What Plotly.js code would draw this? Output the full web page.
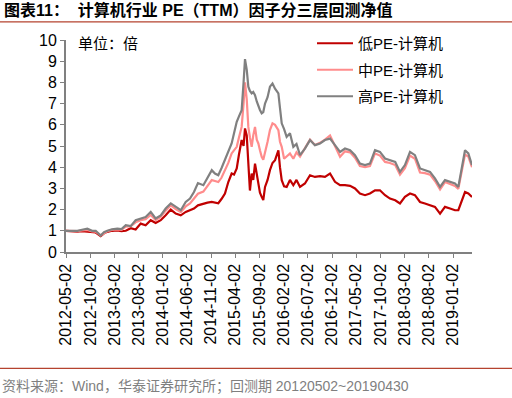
<!DOCTYPE html>
<html><head><meta charset="utf-8">
<script src="https://cdn.plot.ly/plotly-3.0.1.min.js"></script>
<style>html,body{margin:0;padding:0;background:#fff;}#chart{width:512px;height:398px;}</style>
</head><body><div id="chart"></div>
<script>
var dates = ["2012-05-02","2012-06-09","2012-07-12","2012-08-11","2012-09-13","2012-10-13","2012-11-05","2012-12-06","2012-12-27","2013-01-17",
"2013-02-15","2013-03-21","2013-04-16","2013-05-13","2013-06-13","2013-07-14","2013-08-15","2013-09-15","2013-10-17","2013-11-17",
"2013-12-19","2014-01-19","2014-02-20","2014-03-23","2014-04-24","2014-05-25","2014-06-21","2014-07-16","2014-08-10","2014-09-13",
"2014-10-09","2014-11-05","2014-11-25","2014-12-16","2015-01-05","2015-01-27","2015-02-17","2015-03-10","2015-03-25","2015-04-11",
"2015-04-25","2015-05-12","2015-05-24","2015-06-02","2015-06-13","2015-06-23","2015-07-03","2015-07-14","2015-07-24","2015-08-04",
"2015-08-15","2015-08-25","2015-09-04","2015-09-15","2015-09-25","2015-10-06","2015-10-22","2015-11-06","2015-11-22","2015-12-08",
"2015-12-29","2016-01-08","2016-01-19","2016-02-03","2016-02-19","2016-03-11","2016-04-01","2016-04-21","2016-05-13","2016-06-13",
"2016-07-15","2016-08-15","2016-09-16","2016-10-17","2016-11-18","2016-12-19","2017-01-20","2017-02-20","2017-03-24","2017-04-24",
"2017-05-25","2017-06-26","2017-07-27","2017-08-28","2017-09-28","2017-10-30","2017-11-30","2018-01-02","2018-02-01","2018-03-04",
"2018-04-05","2018-05-06","2018-06-07","2018-07-08","2018-08-09","2018-09-09","2018-10-11","2018-11-11","2018-12-13","2019-01-13",
"2019-02-03","2019-02-24","2019-03-17","2019-04-07","2019-04-30"];
var lowPE = [1.00,0.97,0.96,0.98,0.95,0.93,0.92,0.75,0.88,0.95,
1.00,1.02,0.98,1.00,1.12,1.06,1.34,1.26,1.50,1.37,
1.50,1.73,2.00,1.81,1.73,1.89,1.97,2.05,2.20,2.29,
2.33,2.36,2.34,2.30,2.50,2.76,3.30,3.70,3.65,3.94,
4.60,5.28,5.00,5.83,5.50,4.33,2.90,3.70,3.40,4.17,
3.60,3.23,2.80,2.60,2.45,3.07,3.40,3.86,4.20,4.33,
4.80,4.00,3.39,3.10,3.07,3.40,3.15,3.40,3.07,3.23,
3.62,3.54,3.58,3.54,3.70,3.31,3.15,3.15,3.12,3.00,
2.76,2.68,2.76,2.91,2.91,2.68,2.52,2.44,2.29,2.60,
2.76,2.68,2.36,2.29,2.21,2.13,1.81,2.13,2.05,1.97,
1.97,2.36,2.83,2.76,2.60];
var midPE = [1.00,0.98,0.98,1.02,1.04,0.97,0.96,0.78,0.90,0.98,
1.04,1.07,1.05,1.20,1.22,1.40,1.50,1.55,1.75,1.50,
1.65,1.95,2.20,2.02,1.88,2.15,2.29,2.50,2.75,2.85,
3.10,3.39,3.35,3.30,3.50,3.86,4.20,4.65,4.80,4.96,
5.40,5.90,7.00,8.00,7.20,5.90,5.40,4.96,5.50,5.90,
5.30,5.12,4.80,4.49,4.35,4.65,5.20,5.75,6.07,6.00,
5.75,5.20,4.96,4.40,4.49,4.65,4.40,4.70,4.50,4.90,
5.30,5.05,5.15,5.30,5.50,5.00,4.49,4.75,4.70,4.45,
4.05,4.00,4.05,4.65,4.55,4.25,4.20,4.10,3.65,3.95,
4.55,4.40,3.75,3.72,3.65,3.35,2.95,3.30,3.20,3.12,
2.98,3.80,4.60,4.50,4.00];
var highPE = [1.00,1.00,1.00,1.05,1.10,1.00,1.00,0.78,0.93,1.00,
1.07,1.10,1.08,1.26,1.22,1.50,1.58,1.65,1.89,1.58,
1.73,2.05,2.29,2.13,1.97,2.36,2.52,2.83,3.25,3.15,
3.50,3.86,3.70,3.62,3.95,4.33,4.75,5.12,5.60,6.14,
6.40,6.69,8.00,9.10,8.60,7.80,7.60,7.48,7.55,7.40,
7.10,6.85,6.70,6.54,6.60,7.00,7.30,7.80,7.95,7.70,
7.48,6.80,6.07,5.80,5.43,5.60,4.96,5.10,4.57,4.88,
5.28,5.04,5.12,5.28,5.35,5.04,4.72,4.88,4.80,4.57,
4.17,4.10,4.17,4.80,4.72,4.41,4.33,4.25,3.78,4.10,
4.72,4.57,3.94,3.86,3.78,3.47,3.07,3.39,3.31,3.23,
3.07,3.94,4.80,4.65,4.10];
var seriesNames = ["低PE-计算机","中PE-计算机","高PE-计算机"];
var tickDates = ["2012-05-02","2012-10-02","2013-03-02","2013-08-02","2014-01-02","2014-06-02","2014-11-02","2015-04-02","2015-09-02","2016-02-02","2016-07-02","2016-12-02","2017-05-02","2017-10-02","2018-03-02","2018-08-02","2019-01-02"];
var tickLabels = tickDates.slice();
var yTicks = [0,1,2,3,4,5,6,7,8,9,10];

var colors = ["#C00000","#FF8C8C","#808080"];
var vals = [lowPE, midPE, highPE];
var traces = vals.map(function(v,i){
  return {x: dates, y: v, type: "scatter", mode: "lines", name: seriesNames[i],
    legendgroup: "g"+i, line: {color: colors[i], width: 2.2}};
});
var W=406, H=211.7, L=66, T=40;
function px(x){return (x-L)/W;}
function py(y){return (T+H-y)/H;}
var layout = {
  width: 512, height: 398,
  margin: {l: 66, r: 40, t: 40, b: 146.3},
  paper_bgcolor: "#fff", plot_bgcolor: "#fff",
  font: {family: "Liberation Sans, Arial, Noto Sans CJK SC, sans-serif", color: "#000"},
  showlegend: true,
  legend: {x: px(312), xanchor: "left", y: py(27), yanchor: "top", bgcolor: "rgba(0,0,0,0)",
    font: {size: 15, family: "Liberation Sans, Noto Sans CJK SC, sans-serif"}, tracegroupgap: 4, itemwidth: 36},
  xaxis: {type: "date", range: ["2012-05-02","2019-04-30"], tickmode: "array", tickvals: tickDates, ticktext: tickLabels,
    tickangle: -90, tickfont: {size: 16}, ticks: "outside", ticklen: 4, tickcolor: "#808080",
    showline: true, linecolor: "#808080", linewidth: 1.5, showgrid: false, zeroline: false},
  yaxis: {range: [0,10], tickmode: "array", tickvals: yTicks, tickfont: {size: 16}, ticks: "outside", ticklen: 4,
    tickcolor: "#808080", showline: true, linecolor: "#808080", linewidth: 2, showgrid: false, zeroline: false},
  shapes: [
    {type: "line", xref: "paper", yref: "paper", x0: px(0), x1: px(512), y0: py(22), y1: py(22), line: {color: "#B5432F", width: 1.2}},
    {type: "line", xref: "paper", yref: "paper", x0: px(0), x1: px(512), y0: py(368), y1: py(368), line: {color: "#B5432F", width: 1.2}}
  ],
  annotations: [
    {xref: "paper", yref: "paper", x: px(2), y: py(10), xanchor: "left", yanchor: "middle", showarrow: false,
      text: "<b>图表11：\u00a0 计算机行业 PE（TTM）因子分三层回测净值</b>", font: {size: 16, color: "#000", family: "Liberation Sans, Noto Sans CJK SC, sans-serif"}},
    {xref: "paper", yref: "paper", x: px(76), y: py(42), xanchor: "left", yanchor: "middle", showarrow: false,
      text: "单位：倍", font: {size: 15, color: "#000", family: "Noto Sans CJK SC, sans-serif"}},
    {xref: "paper", yref: "paper", x: px(0), y: py(386), xanchor: "left", yanchor: "middle", showarrow: false,
      text: "资料来源：Wind，华泰证券研究所；回测期 20120502~20190430", font: {size: 14, color: "#7f7f7f", family: "Liberation Sans, Noto Sans CJK SC, sans-serif"}}
  ]
};
Plotly.newPlot("chart", traces, layout, {displayModeBar: false, staticPlot: true});
</script></body></html>
